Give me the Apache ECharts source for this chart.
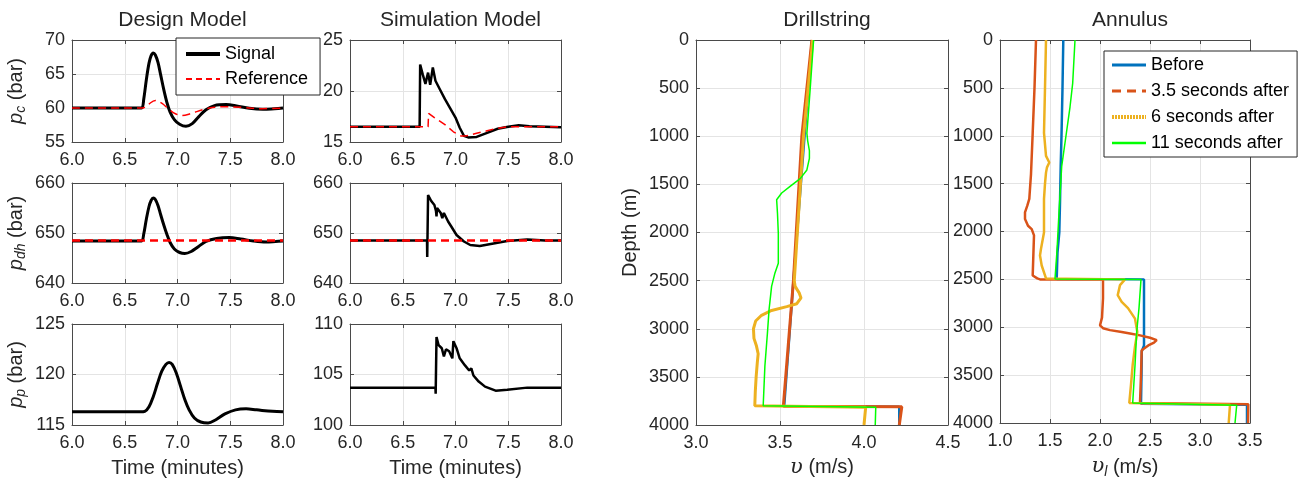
<!DOCTYPE html>
<html><head><meta charset="utf-8">
<script src="https://cdn.jsdelivr.net/npm/echarts@6/dist/echarts.min.js"></script>
<style>html,body{margin:0;padding:0;background:#fff}#c{width:1306px;height:484px}</style>
</head><body><div id="c"></div><script>
// ---------- data ----------
const timeTicks = [6.0, 6.5, 7.0, 7.5, 8.0];
const designPcSignal = [[6.0,60],[6.3,60],[6.6,60],[6.66,60],[6.68,61.3],[6.705,64.2],[6.73,66.6],[6.75,67.7],[6.77,68.1],[6.79,67.8],[6.815,66.7],[6.84,64.9],[6.87,62.7],[6.90,60.8],[6.93,59.4],[6.97,58.3],[7.02,57.6],[7.08,57.3],[7.14,57.7],[7.20,58.7],[7.27,59.75],[7.35,60.35],[7.46,60.5],[7.56,60.3],[7.68,59.95],[7.81,59.8],[7.92,59.9],[8.0,60.0]];
const designPcRef = [[6.0,60],[6.4,60],[6.62,60],[6.67,60],[6.72,60.5],[6.79,61.1],[6.85,60.7],[6.92,59.8],[6.98,59.15],[7.04,58.9],[7.12,59.15],[7.25,59.8],[7.35,60.1],[7.45,60.2],[7.6,60.1],[7.8,59.9],[8.0,60.0]];
const simPcSignal = [[6.0,16.5],[6.3,16.5],[6.66,16.5],[6.665,22.6],[6.69,21.6],[6.715,20.7],[6.74,21.8],[6.76,20.6],[6.785,22.3],[6.81,21.0],[6.85,20.2],[6.90,19.2],[6.95,18.3],[7.0,17.4],[7.04,16.4],[7.08,15.6],[7.12,15.45],[7.2,15.5],[7.3,15.9],[7.4,16.3],[7.5,16.5],[7.6,16.65],[7.7,16.55],[7.85,16.5],[8.0,16.45]];
const simPcRef = [[6.0,16.5],[6.74,16.5],[6.745,17.8],[6.8,17.4],[6.9,16.7],[6.98,16.0],[7.05,15.6],[7.1,15.6],[7.2,15.85],[7.3,16.1],[7.4,16.35],[7.5,16.5],[8.0,16.5]];
const designPdhSignal = [[6.0,648.4],[6.3,648.4],[6.6,648.4],[6.66,648.4],[6.68,649.8],[6.705,652.8],[6.73,655.3],[6.75,656.5],[6.77,657.0],[6.79,656.7],[6.815,655.5],[6.84,653.7],[6.87,651.6],[6.90,649.7],[6.93,648.1],[6.97,646.8],[7.02,646.1],[7.07,645.9],[7.13,646.3],[7.20,647.3],[7.27,648.3],[7.37,648.9],[7.49,649.1],[7.6,648.8],[7.72,648.4],[7.84,648.2],[7.93,648.3],[8.0,648.4]];
const designPdhRef = [[6.0,648.5],[8.0,648.5]];
const simPdhSignal = [[6.0,648.5],[6.5,648.5],[6.73,648.5],[6.732,645.2],[6.74,657.6],[6.77,656.4],[6.80,655.6],[6.815,654.4],[6.82,653.3],[6.825,655.0],[6.86,654.0],[6.875,653.0],[6.89,654.0],[6.93,652.3],[6.96,651.3],[7.01,649.6],[7.08,648.3],[7.14,647.6],[7.23,647.4],[7.36,647.9],[7.49,648.4],[7.68,648.7],[7.85,648.5],[8.0,648.5]];
const simPdhRef = [[6.0,648.5],[8.0,648.5]];
const designPpSignal = [[6.0,116.3],[6.4,116.3],[6.65,116.3],[6.69,116.35],[6.73,116.8],[6.77,117.8],[6.81,119.1],[6.85,120.3],[6.89,121.0],[6.92,121.2],[6.95,121.0],[6.99,120.1],[7.03,118.8],[7.07,117.5],[7.11,116.5],[7.16,115.7],[7.22,115.3],[7.29,115.2],[7.36,115.5],[7.45,116.1],[7.55,116.5],[7.65,116.6],[7.75,116.5],[7.9,116.35],[8.0,116.3]];
const simPpSignal = [[6.0,103.7],[6.5,103.7],[6.81,103.7],[6.812,103.1],[6.82,108.7],[6.84,107.9],[6.87,107.6],[6.89,106.8],[6.91,107.5],[6.94,107.3],[6.97,106.6],[6.98,108.3],[7.01,107.6],[7.04,106.6],[7.09,105.9],[7.13,105.4],[7.15,105.6],[7.17,104.9],[7.22,104.3],[7.28,103.8],[7.38,103.4],[7.49,103.5],[7.68,103.7],[8.0,103.7]];

// [velocity (m/s), depth (m)]
const drillBefore = [[3.69,0],[3.58,2500],[3.525,3805],[4.21,3810],[4.21,4000]];
const drillAfter35 = [[3.69,0],[3.63,1000],[3.58,2500],[3.52,3805],[4.225,3810],[4.21,4000]];
const drillAfter6 = [[3.695,0],[3.64,1000],[3.585,2500],[3.59,2560],[3.615,2630],[3.625,2680],[3.60,2740],[3.54,2770],[3.45,2810],[3.39,2860],[3.355,2920],[3.342,3000],[3.345,3100],[3.36,3180],[3.37,3260],[3.365,3350],[3.358,3500],[3.353,3650],[3.35,3800],[4.01,3815],[4.0,4000]];
const drillAfter11 = [[3.70,0],[3.68,500],[3.66,970],[3.665,1050],[3.675,1150],[3.675,1230],[3.66,1350],[3.62,1440],[3.56,1520],[3.51,1590],[3.48,1660],[3.485,1800],[3.49,2010],[3.49,2200],[3.49,2320],[3.47,2420],[3.45,2560],[3.435,2800],[3.425,3050],[3.41,3390],[3.40,3800],[4.07,3815],[4.067,4000]];
const annBefore = [[1.633,0],[1.625,500],[1.615,1000],[1.607,1320],[1.6,1700],[1.593,2010],[1.575,2220],[1.567,2495],[2.44,2500],[2.44,3190],[2.418,3250],[2.415,3500],[2.41,3800],[3.47,3810],[3.47,4000]];
const annAfter35 = [[1.36,0],[1.345,500],[1.327,970],[1.31,1400],[1.293,1660],[1.273,1730],[1.25,1800],[1.25,1870],[1.28,1940],[1.317,1975],[1.34,2040],[1.335,2200],[1.327,2460],[1.373,2490],[1.40,2500],[2.03,2500],[2.03,2700],[2.02,2900],[2.0,2980],[2.03,3010],[2.1,3030],[2.217,3050],[2.3,3065],[2.4,3085],[2.5,3110],[2.567,3135],[2.54,3160],[2.483,3190],[2.417,3240],[2.41,3500],[2.40,3790],[3.483,3805],[3.48,4000]];
const annAfter6 = [[1.46,0],[1.45,500],[1.44,970],[1.46,1210],[1.493,1280],[1.47,1330],[1.46,1385],[1.45,1500],[1.44,1660],[1.44,2010],[1.41,2180],[1.40,2250],[1.417,2355],[1.46,2490],[2.25,2500],[2.2,2560],[2.177,2665],[2.217,2735],[2.28,2800],[2.35,2910],[2.373,3050],[2.35,3200],[2.327,3390],[2.31,3600],[2.293,3790],[3.3,3810],[3.287,4000]];
const annAfter11 = [[1.75,0],[1.727,450],[1.7,700],[1.66,1000],[1.617,1320],[1.59,1800],[1.57,2200],[1.55,2495],[2.41,2500],[2.39,2800],[2.367,3050],[2.35,3400],[2.327,3790],[3.367,3815],[3.35,4000]];

const leftLegendNames = ['Signal', 'Reference'];
const rightLegendNames = ['Before', '3.5 seconds after', '6 seconds after', '11 seconds after'];
const panelTitles = ['Design Model', 'Simulation Model', 'Drillstring', 'Annulus'];

// ---------- style ----------
const FONT = '"Liberation Sans", Helvetica, Arial, sans-serif';
const TXT = '#262626';
const AXC = '#4a4a4a';
const GRIDC = '#e4e4e4';
const C_BLUE = '#0072BD', C_RED = '#D95319', C_YEL = '#EDB120', C_GRN = '#00FF00';

const grids = [
  {left:72, top:40, width:211, height:102},
  {left:350, top:40, width:211, height:102},
  {left:72, top:183, width:211, height:100},
  {left:350, top:183, width:211, height:100},
  {left:72, top:324, width:211, height:101},
  {left:350, top:324, width:211, height:101},
  {left:696, top:40, width:252, height:385},
  {left:1000, top:40, width:250, height:385}
];

const subRich = {
  p: {fontStyle:'italic', fontSize:20, fontFamily:FONT, color:TXT},
  s: {fontStyle:'italic', fontSize:14, fontFamily:FONT, color:TXT, padding:[10,0,0,0]},
  t: {fontSize:20, fontFamily:FONT, color:TXT},
  u: {fontSize:21, fontFamily:'"DejaVu Serif", serif', fontStyle:'italic', color:TXT}
};

const xAxes = [], yAxes = [];
function addAxes(gi, xc, yc) {
  const base = (c, pos, primary, isY) => ({
    type:'value', gridIndex:gi, position:pos, min:c.min, max:c.max, interval:c.interval,
    inverse: !!c.inverse,
    axisLine:{show:true, onZero:false, lineStyle:{color:AXC, width:1}},
    axisTick:{show:true, inside:true, length:4, lineStyle:{color:AXC}},
    axisLabel:{show:primary, fontSize:18, color:TXT, fontFamily:FONT, margin: isY ? 7 : 9,
      formatter: v => c.dec ? v.toFixed(c.dec) : String(v)},
    splitLine:{show:primary, lineStyle:{color:GRIDC, width:1}},
    name: primary ? (c.name || '') : '', nameLocation:'middle', nameGap:c.nameGap || 30,
    nameRotate: isY ? 90 : 0,
    nameTextStyle:{fontSize:20, color:TXT, fontFamily:FONT, rich:subRich}
  });
  xAxes.push(base(xc, 'bottom', true, false), base(xc, 'top', false, false));
  yAxes.push(base(yc, 'left', true, true), base(yc, 'right', false, true));
}
const tX = (name) => ({min:6, max:8, interval:0.5, dec:1, name:name, nameGap:33});
addAxes(0, tX(''), {min:55, max:70, interval:5, name:'{p|p}{s|c}{t| (bar)}', nameGap:44});
addAxes(1, tX(''), {min:15, max:25, interval:5});
addAxes(2, tX(''), {min:640, max:660, interval:10, name:'{p|p}{s|dh}{t| (bar)}', nameGap:44});
addAxes(3, tX(''), {min:640, max:660, interval:10});
addAxes(4, tX('Time (minutes)'), {min:115, max:125, interval:5, name:'{p|p}{s|p}{t| (bar)}', nameGap:44});
addAxes(5, tX('Time (minutes)'), {min:100, max:110, interval:5});
addAxes(6, {min:3, max:4.5, interval:0.5, dec:1, name:'{u|υ}{t| (m/s)}', nameGap:32},
           {min:0, max:4000, interval:500, inverse:true, name:'Depth (m)', nameGap:56});
addAxes(7, {min:1, max:3.5, interval:0.5, dec:1, name:'{u|υ}{s|l}{t| (m/s)}', nameGap:32},
           {min:0, max:4000, interval:500, inverse:true});

function line(name, data, gi, color, width, type, smooth) {
  return {
    type:'line', name:name, data:data, xAxisIndex:2*gi, yAxisIndex:2*gi,
    symbol:'none', showSymbol:false, smooth:smooth || false,
    lineStyle:{color:color, width:width, type:type || 'solid'}, itemStyle:{color:color},
    animation:false, silent:true
  };
}
const REFDASH = [8, 5];
const series = [
  line('Signal', designPcSignal, 0, '#000', 3, 'solid', 0.35),
  line('Reference', designPcRef, 0, '#FF0000', 1.5, REFDASH, 0.35),
  line('Signal', simPcSignal, 1, '#000', 2.5),
  line('Reference', simPcRef, 1, '#FF0000', 1.5, REFDASH),
  line('Signal', designPdhSignal, 2, '#000', 3, 'solid', 0.35),
  line('Reference', designPdhRef, 2, '#FF0000', 2.5, REFDASH),
  line('Signal', simPdhSignal, 3, '#000', 2.5),
  line('Reference', simPdhRef, 3, '#FF0000', 2.5, REFDASH),
  line('Signal', designPpSignal, 4, '#000', 3, 'solid', 0.35),
  line('Signal', simPpSignal, 5, '#000', 2.5),
  line('Before', drillBefore, 6, C_BLUE, 2.5),
  line('3.5 seconds after', drillAfter35, 6, C_RED, 3),
  line('6 seconds after', drillAfter6, 6, C_YEL, 3),
  line('11 seconds after', drillAfter11, 6, C_GRN, 1.5),
  line('Before', annBefore, 7, C_BLUE, 2.5),
  line('3.5 seconds after', annAfter35, 7, C_RED, 2.5),
  line('6 seconds after', annAfter6, 7, C_YEL, 2.5),
  line('11 seconds after', annAfter11, 7, C_GRN, 1.5)
];

const titleCenters = [177.5, 455.5, 822, 1125];
const titles = panelTitles.map((t, i) => ({
  text:t, left:titleCenters[i], top:5, textAlign:'center',
  textStyle:{fontSize:21, fontWeight:'normal', color:TXT, fontFamily:FONT}
}));

const hideSym = {opacity:0, borderWidth:0};
const legendCommon = {
  orient:'vertical', backgroundColor:'#fff', borderColor:'#262626', borderWidth:1,
  itemWidth:34, itemHeight:14, selectedMode:false, z:20,
  itemStyle:hideSym,
  textStyle:{fontSize:18, color:'#000', fontFamily:FONT}
};
const chart = echarts.init(document.getElementById('c'), null, {renderer:'canvas'});
chart.setOption({
  animation:false,
  backgroundColor:'#fff',
  title:titles,
  grid:grids,
  xAxis:xAxes,
  yAxis:yAxes,
  legend:[
    Object.assign({}, legendCommon, {left:176, top:38, itemGap:7, padding:[7,12,7,8],
      data:[{name:leftLegendNames[0], itemStyle:hideSym, lineStyle:{width:4}},
            {name:leftLegendNames[1], itemStyle:hideSym, lineStyle:{width:2, type:[6,4]}}]}),
    Object.assign({}, legendCommon, {left:1104, top:51, itemGap:8, padding:[5,8,5,6],
      data:[{name:rightLegendNames[0], itemStyle:hideSym, lineStyle:{width:3}},
            {name:rightLegendNames[1], itemStyle:hideSym, lineStyle:{width:3, type:[9,6]}},
            {name:rightLegendNames[2], itemStyle:hideSym, lineStyle:{width:4, type:[2,1]}},
            {name:rightLegendNames[3], itemStyle:hideSym, lineStyle:{width:2.5}}]})
  ],
  series:series
});
</script></body></html>
